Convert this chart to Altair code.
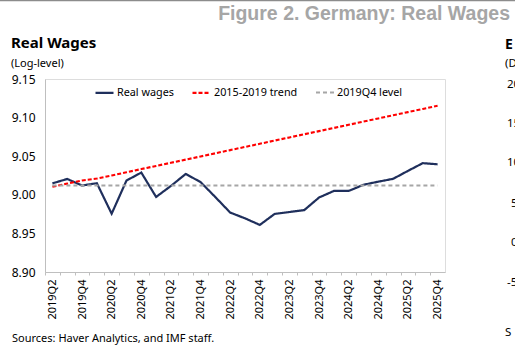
import altair as alt
import pandas as pd

# Quarterly axis categories
quarters = [
    "2019Q2", "2019Q3", "2019Q4", "2020Q1", "2020Q2", "2020Q3", "2020Q4",
    "2021Q1", "2021Q2", "2021Q3", "2021Q4", "2022Q1", "2022Q2", "2022Q3",
    "2022Q4", "2023Q1", "2023Q2", "2023Q3", "2023Q4", "2024Q1", "2024Q2",
    "2024Q3", "2024Q4", "2025Q1", "2025Q2", "2025Q3", "2025Q4",
]

# Real wages (log-level)
real_wages = [
    9.0148, 9.0205, 9.0120, 9.0150, 8.9755, 9.0185, 9.0288,
    8.9972, 9.0115, 9.0270, 9.0165, 8.9970, 8.9770, 8.9695,
    8.9610, 8.9752, 8.9777, 8.9802, 8.9965, 9.0050, 9.0050,
    9.0130, 9.0170, 9.0207, 9.0310, 9.0410, 9.0395,
]

# 2015-2019 trend extrapolated forward
trend = [
    9.0105, 9.0145, 9.0185, 9.0210, 9.0251, 9.0292, 9.0333,
    9.0374, 9.0415, 9.0456, 9.0497, 9.0538, 9.0579, 9.0620,
    9.0661, 9.0702, 9.0743, 9.0784, 9.0825, 9.0866, 9.0907,
    9.0948, 9.0989, 9.1030, 9.1071, 9.1112, 9.1153,
]

# Level held at its 2019Q4 value
level_2019q4 = [9.012] * len(quarters)

series_names = ["Real wages", "2015-2019 trend", "2019Q4 level"]
series_colors = ["#1f2f5c", "#ff0000", "#a6a6a6"]
series_dashes = [[1, 0], [4, 2], [4, 3]]
series_widths = [2.2, 2.0, 1.5]

y_ticks = [8.90, 8.95, 9.00, 9.05, 9.10, 9.15]

figure_title = "Figure 2. Germany: Real Wages"
panel_title = "Real Wages"
panel_subtitle = "(Log-level)"
source_note = "Sources: Haver Analytics, and IMF staff."
# Edge of the neighbouring panel, cut off at the right border
next_panel_bits = [
    ("E", 460, -34, True), ("(D", 460, -16, False), ("20", 462, 5, False),
    ("15", 462, 44, False), ("10", 462, 83, False), ("5", 466, 124, False),
    ("0", 466, 163, False), ("-5", 462, 203, False), ("S", 460, 253, False),
]

FONT = "Noto Sans"
W, H = 400, 193
HALF_STEP = W / len(quarters) / 2

rows = []
for name, vals in zip(series_names, [real_wages, trend, level_2019q4]):
    for q, v in zip(quarters, vals):
        rows.append({"quarter": q, "value": v, "series": name})
df = pd.DataFrame(rows)

x_enc = alt.X(
    "quarter:N",
    sort=quarters,
    scale=alt.Scale(type="point", padding=0.5),
    axis=alt.Axis(
        title=None,
        labelAngle=-90,
        labelAlign="right",
        labelBaseline="middle",
        labelExpr="(slice(datum.value, 4) == 'Q2' || slice(datum.value, 4) == 'Q4') ? datum.value : ''",
        tickSize=3,
        tickOffset=-HALF_STEP,
        labelOffset=HALF_STEP,
        tickColor="#bfbfbf",
        domainColor="#bfbfbf",
        labelPadding=4,
        labelFont=FONT,
        labelFontSize=11,
        labelColor="#000000",
        labelOverlap=False,
    ),
)

y_enc = alt.Y(
    "value:Q",
    scale=alt.Scale(domain=[8.90, 9.15], nice=False, zero=False),
    axis=alt.Axis(
        title=None,
        values=y_ticks,
        format=".2f",
        grid=False,
        ticks=False,
        domainColor="#bfbfbf",
        labelPadding=10,
        labelFont=FONT,
        labelFontSize=12,
        labelColor="#000000",
    ),
)

lines = alt.Chart(df).mark_line().encode(
    x=x_enc,
    y=y_enc,
    color=alt.Color(
        "series:N",
        sort=series_names,
        scale=alt.Scale(domain=series_names, range=series_colors),
        legend=alt.Legend(
            title=None,
            orient="none",
            legendX=49,
            legendY=3,
            direction="horizontal",
            symbolType="stroke",
            symbolSize=324,
            symbolStrokeWidth=2,
            labelFont=FONT,
            labelFontSize=10.8,
            labelColor="#000000",
            labelOffset=2,
            columnPadding=14,
            padding=0,
        ),
    ),
    strokeDash=alt.StrokeDash(
        "series:N",
        sort=series_names,
        scale=alt.Scale(domain=series_names, range=series_dashes),
    ),
    strokeWidth=alt.StrokeWidth(
        "series:N",
        sort=series_names,
        scale=alt.Scale(domain=series_names, range=series_widths),
        legend=None,
    ),
)


def label(text, x, y, size, bold=False, color="#000000", align="left", font=FONT):
    return alt.Chart(pd.DataFrame({"t": [text]})).mark_text(
        align=align,
        baseline="alphabetic",
        font=font,
        fontSize=size,
        fontWeight="bold" if bold else "normal",
        color=color,
    ).encode(text="t:N", x=alt.value(x), y=alt.value(y))


top_rule = alt.Chart(pd.DataFrame({"t": [0]})).mark_rule(
    color="#8c8c8c", strokeWidth=1.5
).encode(x=alt.value(-45), x2=alt.value(W + 70), y=alt.value(-78.5))

texts = [
    label(figure_title, 465, -59, 19.5, bold=True, color="#a6a6a6",
          align="right", font="Liberation Sans"),
    label(panel_title, -34, -31, 15, bold=True),
    label(panel_subtitle, -34, -12, 11),
    label(source_note, -33, 263, 11),
]
for t, x, y, b in next_panel_bits:
    texts.append(label(t, x, y + 4, 14 if b else 11.5, bold=b))

chart = alt.layer(lines, top_rule, *texts).properties(
    width=W,
    height=H,
    autosize=alt.AutoSizeParams(type="none"),
    padding={"left": 45, "top": 79, "right": 70, "bottom": 77},
).configure_view(
    stroke="#d9d9d9", strokeWidth=1
).configure(background="#ffffff")

chart.save("out.html", embed_options={"renderer": "svg", "actions": False})
